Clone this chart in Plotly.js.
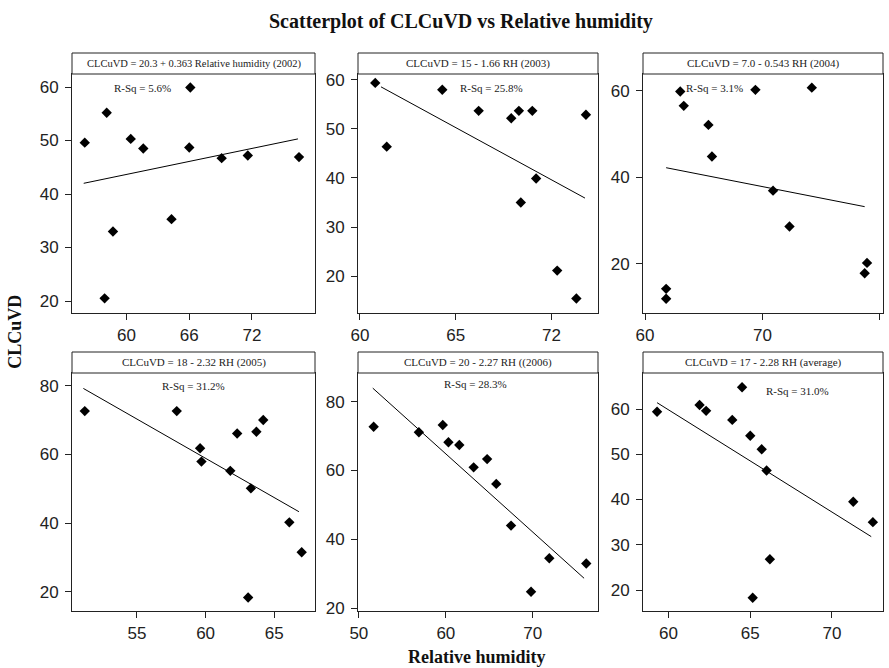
<!DOCTYPE html>
<html><head><meta charset="utf-8">
<script src="https://cdn.plot.ly/plotly-3.0.1.min.js"></script>
<style>html,body{margin:0;padding:0;background:#fff}</style>
</head><body><div id="chart" style="width:889px;height:668px"></div>
<script>
// ---- data ----
const rh2002 = [56.0, 58.1, 58.7, 57.9, 60.4, 61.6, 64.3, 66.1, 66.0, 69.1, 71.6, 76.5];
const cl2002 = [49.6, 55.2, 33.0, 20.5, 50.3, 48.5, 35.3, 59.9, 48.7, 46.7, 47.2, 46.9];
const fitRh2002 = [55.9, 76.4];
const fitCl2002 = [42.0, 50.3];

const rh2003 = [60.8, 61.4, 64.3, 66.2, 67.9, 68.3, 69.0, 71.8, 69.2, 68.4, 70.3, 71.3];
const cl2003 = [59.4, 46.4, 58.0, 53.7, 52.2, 53.7, 53.7, 52.9, 39.9, 35.0, 21.1, 15.4];
const fitRh2003 = [61.1, 71.75];
const fitCl2003 = [58.6, 35.9];

const rh2004 = [63.0, 63.3, 65.4, 65.7, 69.4, 74.2, 70.9, 72.3, 61.8, 61.8, 78.9, 78.7];
const cl2004 = [59.8, 56.5, 52.1, 44.8, 60.2, 60.7, 36.9, 28.6, 14.2, 11.9, 20.2, 17.8];
const fitRh2004 = [61.8, 78.7];
const fitCl2004 = [42.2, 33.2];

const rh2005 = [51.2, 57.9, 59.6, 59.7, 61.8, 62.3, 63.7, 64.2, 63.3, 66.1, 67.0, 63.1];
const cl2005 = [72.6, 72.6, 61.8, 57.9, 55.2, 66.1, 66.6, 70.0, 50.1, 40.2, 31.5, 18.3];
const fitRh2005 = [51.1, 66.8];
const fitCl2005 = [79.2, 43.3];

const rh2006 = [51.7, 56.9, 59.65, 60.3, 61.55, 63.2, 64.75, 65.8, 67.5, 71.9, 76.15, 69.8];
const cl2006 = [72.7, 71.1, 73.2, 68.2, 67.4, 60.9, 63.3, 56.1, 44.0, 34.5, 33.0, 24.8];
const fitRh2006 = [51.6, 75.9];
const fitCl2006 = [83.9, 28.7];

const rhAvg = [59.3, 61.9, 62.3, 63.9, 64.5, 65.0, 65.7, 66.0, 66.2, 65.15, 71.3, 72.5];
const clAvg = [59.4, 60.9, 59.6, 57.6, 64.8, 54.1, 51.1, 46.4, 26.8, 18.3, 39.5, 35.0];
const fitRhAvg = [59.3, 72.4];
const fitClAvg = [61.4, 31.8];

const equations = [
  "CLCuVD = 20.3 + 0.363 Relative humidity (2002)",
  "CLCuVD = 15 - 1.66 RH (2003)",
  "CLCuVD = 7.0 - 0.543 RH (2004)",
  "CLCuVD = 18 - 2.32 RH (2005)",
  "CLCuVD = 20 - 2.27 RH ((2006)",
  "CLCuVD = 17 - 2.28 RH (average)"
];
const rsq = ["R-Sq = 5.6%", "R-Sq = 25.8%", "R-Sq = 3.1%", "R-Sq = 31.2%", "R-Sq = 28.3%", "R-Sq = 31.0%"];

const xTickVals = [[60, 66, 72], [60, 65, 70], [60, 70, 80], [55, 60, 65], [50, 60, 70], [60, 65, 70]];
const xTickText = [["60", "66", "72"], ["60", "65", "72"], ["60", "70", "80"], ["55", "60", "65"], ["50", "60", "70"], ["60", "65", "70"]];
const yTickVals = [[20, 30, 40, 50, 60], [20, 30, 40, 50, 60], [20, 40, 60], [20, 40, 60, 80], [20, 40, 60, 80], [20, 30, 40, 50, 60]];

const title = "Scatterplot of CLCuVD vs Relative humidity";
const xTitle = "Relative humidity";
const yTitle = "CLCuVD";

// ---- layout (pixel geometry) ----
const W = 889, H = 668;
const series = [
  [rh2002, cl2002, fitRh2002, fitCl2002],
  [rh2003, cl2003, fitRh2003, fitCl2003],
  [rh2004, cl2004, fitRh2004, fitCl2004],
  [rh2005, cl2005, fitRh2005, fitCl2005],
  [rh2006, cl2006, fitRh2006, fitCl2006],
  [rhAvg, clAvg, fitRhAvg, fitClAvg]
];
const cols = [[72, 315], [358, 598], [643, 883]];
const rows = [[74, 313, 53], [373, 611, 352]];
const xRanges = [[54.78, 78.03], [59.9, 72.43], [59.83, 80.26], [50.27, 67.97], [49.9, 77.5], [58.44, 73.12]];
const yRanges = [[17.76, 62.43], [12.45, 61.22], [8.62, 63.86], [14.38, 83.7], [19.2, 88.3], [15.36, 67.96]];
const rsqPos = [[0.292, 0.941], [0.557, 0.94], [0.296, 0.94], [0.502, 0.947], [0.4875, 0.952], [0.643, 0.926]];

const tickFont = {family: "Liberation Sans Narrow, Liberation Sans, Arial, sans-serif", size: 17, color: "#222"};
const serif = "Liberation Serif, Times New Roman, serif";

const traces = [];
const layout = {
  width: W, height: H,
  margin: {l: 0, r: 0, t: 0, b: 0},
  paper_bgcolor: "#fff", plot_bgcolor: "#fff",
  showlegend: false,
  shapes: [], annotations: []
};

for (let i = 0; i < 6; i++) {
  const c = cols[i % 3], r = rows[Math.floor(i / 3)];
  const xa = i === 0 ? "x" : "x" + (i + 1);
  const ya = i === 0 ? "y" : "y" + (i + 1);
  const xk = i === 0 ? "xaxis" : "xaxis" + (i + 1);
  const yk = i === 0 ? "yaxis" : "yaxis" + (i + 1);
  const s = series[i];
  traces.push({
    type: "scatter", mode: "markers", x: s[0], y: s[1], xaxis: xa, yaxis: ya,
    marker: {symbol: "diamond", size: 8, color: "#000"}, cliponaxis: false
  });
  traces.push({
    type: "scatter", mode: "lines", x: s[2], y: s[3], xaxis: xa, yaxis: ya,
    line: {color: "#000", width: 1}
  });
  layout[xk] = {
    domain: [c[0] / W, c[1] / W], range: xRanges[i], anchor: ya,
    tickmode: "array", tickvals: xTickVals[i], ticktext: xTickText[i],
    ticks: "outside", ticklen: 6, tickcolor: "#222", tickwidth: 1,
    showgrid: false, zeroline: false, showline: true, linecolor: "#222", linewidth: 1, mirror: true,
    tickfont: tickFont, ticklabelstandoff: 1
  };
  layout[yk] = {
    domain: [1 - r[1] / H, 1 - r[0] / H], range: yRanges[i], anchor: xa,
    tickmode: "array", tickvals: yTickVals[i],
    ticks: "outside", ticklen: 6, tickcolor: "#222", tickwidth: 1,
    showgrid: false, zeroline: false, showline: true, linecolor: "#222", linewidth: 1, mirror: true,
    tickfont: tickFont, ticklabelstandoff: 3
  };
  const stripTop = 1 + (r[0] - r[2]) / (r[1] - r[0]);
  layout.shapes.push({
    type: "rect", xref: xa + " domain", yref: ya + " domain",
    x0: 0, x1: 1, y0: 1, y1: stripTop,
    line: {color: "#222", width: 1}, fillcolor: "#fff"
  });
  layout.annotations.push({
    xref: xa + " domain", yref: ya + " domain", x: 0.5, y: (1 + stripTop) / 2,
    text: equations[i], showarrow: false, xanchor: "center", yanchor: "middle",
    font: {family: serif, size: i === 0 ? 10.5 : 11, color: "#222"}
  });
  layout.annotations.push({
    xref: xa + " domain", yref: ya + " domain", x: rsqPos[i][0], y: rsqPos[i][1],
    text: rsq[i], showarrow: false, xanchor: "center", yanchor: "middle",
    font: {family: serif, size: 11, color: "#222"}
  });
}

layout.annotations.push({
  xref: "paper", yref: "paper", x: 461 / W, y: 1 - 21.7 / H, text: "<b>" + title + "</b>",
  showarrow: false, xanchor: "center", yanchor: "middle",
  font: {family: serif, size: 20, color: "#111"}
});
layout.annotations.push({
  xref: "paper", yref: "paper", x: 476.7 / W, y: 1 - 656.7 / H, text: "<b>" + xTitle + "</b>",
  showarrow: false, xanchor: "center", yanchor: "middle",
  font: {family: serif, size: 18, color: "#111"}
});
layout.annotations.push({
  xref: "paper", yref: "paper", x: 15 / W, y: 1 - 331.7 / H, text: "<b>" + yTitle + "</b>",
  showarrow: false, xanchor: "center", yanchor: "middle", textangle: -90,
  font: {family: serif, size: 18, color: "#111"}
});

Plotly.newPlot("chart", traces, layout, {staticPlot: true, displayModeBar: false});
</script>
</body></html>
